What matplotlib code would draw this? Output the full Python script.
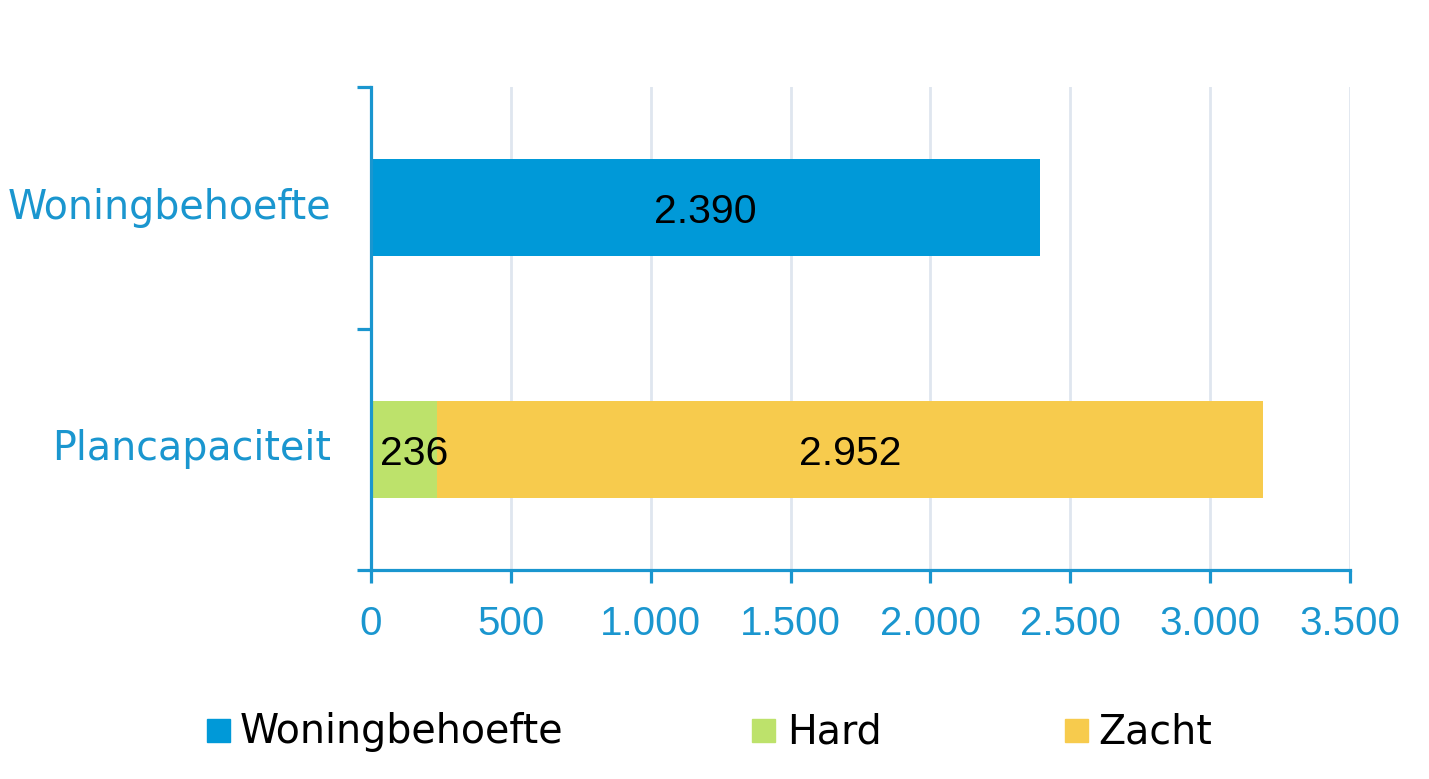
import matplotlib
matplotlib.use("Agg")
import matplotlib.pyplot as plt
from matplotlib.patches import Rectangle
from matplotlib.ticker import FuncFormatter

categories = ["Woningbehoefte", "Plancapaciteit"]
woningbehoefte = [2390, 0]
hard = [0, 236]
zacht = [0, 2952]
x_ticks = [0, 500, 1000, 1500, 2000, 2500, 3000, 3500]

BLUE = "#0099d8"
AXIS = "#1a96cf"
GREEN = "#bde26b"
YELLOW = "#f7cb4d"
GRID = "#dfe6ef"

NUMFONT = ['Liberation Sans', 'DejaVu Sans']
LABFONT = ['DejaVu Sans']

W, H = 1429, 779
fig = plt.figure(figsize=(W / 100, H / 100), dpi=100)
ax = fig.add_axes([371 / W, 1 - 570 / H, (1350 - 371) / W, (570 - 87) / H])

y = list(range(len(categories)))
h = 0.4
b1 = ax.barh(y, woningbehoefte, height=h, color=BLUE, zorder=3)
b2 = ax.barh(y, hard, height=h, color=GREEN, zorder=3)
b3 = ax.barh(y, zacht, left=hard, height=h, color=YELLOW, zorder=3)

fmt = lambda v: f"{int(v):,}".replace(",", ".")
for bars in (b1, b2, b3):
    for rect in bars:
        w = rect.get_width()
        if w <= 0:
            continue
        cy = rect.get_y() + rect.get_height() / 2
        if w < 500:
            ax.annotate(fmt(w), (rect.get_x(), cy), xytext=(6.5, -11), textcoords="offset points",
                        ha="left", va="baseline", fontsize=29.5, family=NUMFONT, color="black", zorder=4)
        else:
            ax.annotate(fmt(w), (rect.get_x() + w / 2, cy), xytext=(0, -11), textcoords="offset points",
                        ha="center", va="baseline", fontsize=29.5, family=NUMFONT, color="black", zorder=4)

ax.set_xlim(0, 3500)
ax.set_ylim(1.5, -0.5)
ax.set_xticks(x_ticks)
ax.xaxis.set_major_formatter(FuncFormatter(lambda v, p: fmt(v)))
ax.set_yticks(y)
ax.set_yticklabels([])
for i, cat in enumerate(categories):
    ax.annotate(cat, (0, i), xycoords=("axes fraction", "data"), xytext=(-28.8, -8),
                textcoords="offset points", ha="right", va="baseline", fontsize=28.5,
                family=LABFONT, color=AXIS, annotation_clip=False)
ax.set_yticks([-0.5, 0.5, 1.5], minor=True)
ax.tick_params(axis="y", which="major", length=0)
ax.tick_params(axis="y", which="minor", length=10, width=2.3, color=AXIS)
ax.tick_params(axis="x", length=9, width=2.3, color=AXIS, labelsize=29, labelcolor=AXIS, pad=16)
for lab in ax.get_xticklabels():
    lab.set_family(NUMFONT)

ax.grid(axis="x", color=GRID, linewidth=2, zorder=0)
for s in ("top", "right"):
    ax.spines[s].set_visible(False)
for s in ("left", "bottom"):
    ax.spines[s].set_color(AXIS)
    ax.spines[s].set_linewidth(2.3)
    ax.spines[s].set_zorder(5)

# legend
legend_items = [("Woningbehoefte", BLUE, 207, 240), ("Hard", GREEN, 752, 787), ("Zacht", YELLOW, 1065, 1098)]
for label, col, sx, tx in legend_items:
    fig.patches.append(Rectangle((sx / W, 1 - 742 / H), 23 / W, 23 / H,
                                 transform=fig.transFigure, color=col))
    fig.text(tx / W, 1 - 743 / H, label, fontsize=28.5, family=LABFONT,
             va="baseline", ha="left", color="black")

fig.savefig("out.png", dpi=100)
